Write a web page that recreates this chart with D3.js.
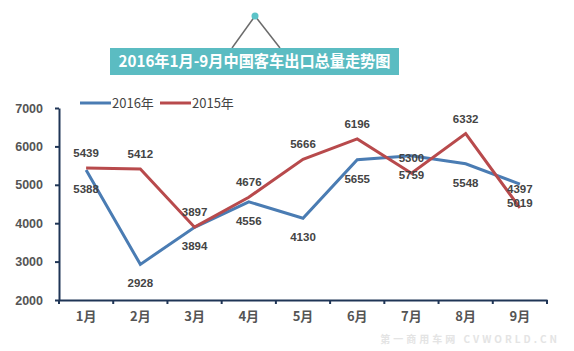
<!DOCTYPE html>
<html>
<head>
<meta charset="utf-8">
<script src="https://cdn.jsdelivr.net/npm/d3@7"></script>
<style>
body { margin: 0; background: #fff; }
svg { display: block; font-family: "Noto Sans CJK SC", "Liberation Sans", sans-serif; }
</style>
</head>
<body>
<div id="chart"></div>
<script>
var months = ["1月", "2月", "3月", "4月", "5月", "6月", "7月", "8月", "9月"];
var values2016 = [5388, 2928, 3894, 4556, 4130, 5655, 5759, 5548, 5019];
var values2015 = [5439, 5412, 3897, 4676, 5666, 6196, 5300, 6332, 4397];
var yTicks = [2000, 3000, 4000, 5000, 6000, 7000];
var seriesNames = ["2016年", "2015年"];

var width = 574, height = 351;
var margin = { top: 108, right: 27, bottom: 51, left: 59 };

var svg = d3.select("#chart").append("svg")
	.attr("width", width)
	.attr("height", height);

//Title with the little hanger on top
var titleG = svg.append("g");
titleG.append("line").attr("x1", 255).attr("y1", 16).attr("x2", 232).attr("y2", 48)
	.style("stroke", "#6b6b6b").style("stroke-width", 1.5);
titleG.append("line").attr("x1", 255).attr("y1", 16).attr("x2", 280).attr("y2", 48)
	.style("stroke", "#6b6b6b").style("stroke-width", 1.5);
titleG.append("circle").attr("cx", 255).attr("cy", 16).attr("r", 3.5)
	.style("fill", "#5cc3c8");
titleG.append("rect").attr("x", 110).attr("y", 48).attr("width", 289).attr("height", 27)
	.style("fill", "#5bbcc2");
titleG.append("text").attr("x", 254.5).attr("y", 67)
	.attr("text-anchor", "middle")
	.attr("textLength", 272)
	.attr("lengthAdjust", "spacingAndGlyphs")
	.style("font-size", "16px").style("font-weight", "bold").style("fill", "#fff")
	.text("2016年1月-9月中国客车出口总量走势图");

//Scales
var x = d3.scaleBand().domain(months)
	.range([margin.left, width - margin.right]);
var y = d3.scaleLinear().domain([2000, 7000])
	.range([height - margin.bottom, margin.top]);

//Axes
var axisColor = "#1f3556";
var xAxis = svg.append("g")
	.attr("transform", "translate(0," + (height - margin.bottom) + ")")
	.call(d3.axisBottom(x).tickSize(0).tickPadding(12));
xAxis.select(".domain").style("stroke", axisColor).style("stroke-width", 2);
xAxis.selectAll("text")
	.style("font-size", "13px").style("font-weight", "bold").style("fill", "#555")
	.style("font-family", "\"Noto Sans CJK SC\", sans-serif");
//tick marks on band edges
xAxis.selectAll(".edge")
	.data(d3.range(months.length + 1))
	.enter().append("line")
	.attr("class", "edge")
	.attr("x1", function(d) { return margin.left + d * x.step(); })
	.attr("x2", function(d) { return margin.left + d * x.step(); })
	.attr("y1", 0).attr("y2", 4)
	.style("stroke", axisColor).style("stroke-width", 2);

var yAxis = svg.append("g")
	.attr("transform", "translate(" + margin.left + ",0)")
	.call(d3.axisLeft(y).tickValues(yTicks).tickFormat(d3.format("d"))
		.tickSize(4).tickPadding(12).tickSizeOuter(0));
yAxis.select(".domain").style("stroke", axisColor).style("stroke-width", 2);
yAxis.selectAll(".tick line").style("stroke", axisColor).style("stroke-width", 2);
yAxis.selectAll("text")
	.style("font-size", "12.5px").style("font-weight", "bold").style("fill", "#555")
	.style("font-family", "\"Liberation Sans\", sans-serif");

//Lines (red labels sit above the point, blue ones below)
var series = [
	{ name: seriesNames[0], values: values2016, color: "#4a7cb3", dy: function(i) { return 23; } },
	{ name: seriesNames[1], values: values2015, color: "#b84a4c", dy: function(i) { return i === 8 ? -15 : -11; } }
];

var line = d3.line()
	.x(function(d, i) { return x(months[i]) + x.bandwidth() / 2; })
	.y(function(d) { return y(d); });

series.forEach(function(s) {
	svg.append("path")
		.datum(s.values)
		.attr("d", line)
		.style("fill", "none")
		.style("stroke", s.color)
		.style("stroke-width", 3)
		.style("stroke-linejoin", "miter");
});

//Data labels
series.forEach(function(s) {
	svg.selectAll(null)
		.data(s.values)
		.enter().append("text")
		.attr("x", function(d, i) { return x(months[i]) + x.bandwidth() / 2; })
		.attr("y", function(d, i) { return y(d) + s.dy(i); })
		.attr("text-anchor", "middle")
		.style("font-size", "11.5px").style("font-weight", "bold").style("fill", "#444")
		.style("font-family", "\"Liberation Sans\", sans-serif")
		.text(function(d) { return d; });
});

//Legend
var legend = svg.append("g").attr("transform", "translate(80,103)");
series.forEach(function(s, i) {
	var g = legend.append("g").attr("transform", "translate(" + (i * 80) + ",0)");
	g.append("line").attr("x1", 0).attr("x2", 31).attr("y1", 0).attr("y2", 0)
		.style("stroke", s.color).style("stroke-width", 3);
	g.append("text").attr("x", 32).attr("y", 5)
		.style("font-size", "13px").style("fill", "#444")
		.text(s.name);
});

//Watermark
svg.append("text").attr("x", 560).attr("y", 343).attr("text-anchor", "end")
	.style("font-size", "10px").style("font-weight", "bold").style("fill", "#e4e4e4").style("letter-spacing", "3px")
	.text("第一商用车网 CVWORLD.CN");
</script>
</body>
</html>
